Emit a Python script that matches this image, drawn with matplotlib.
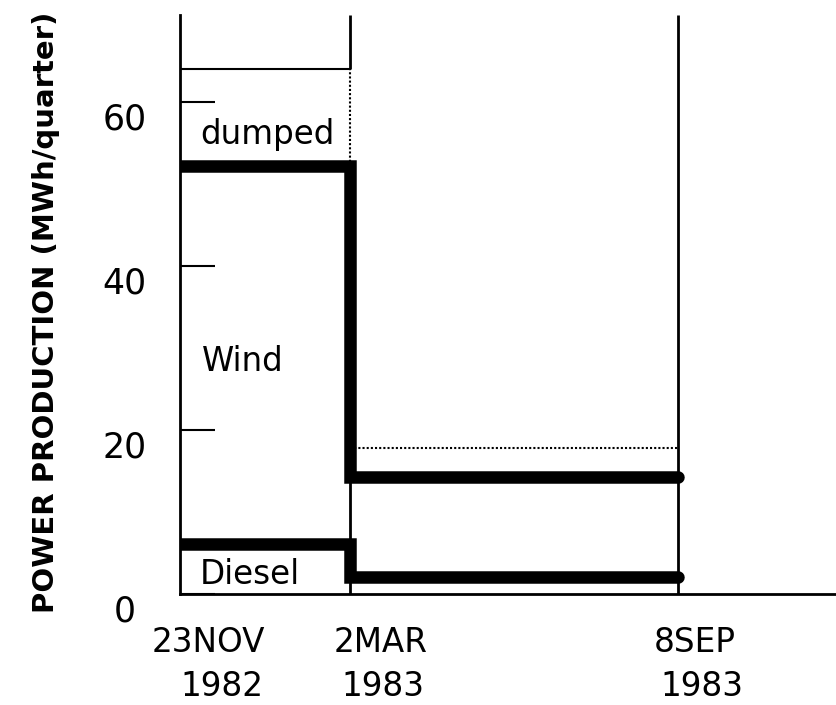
"""
Power production per quarter: diesel, wind and dumped energy
"""

import datetime as dt
import matplotlib
matplotlib.use("Agg")
import matplotlib.pyplot as plt
import matplotlib.dates as mdates
import matplotlib.transforms as mtransforms

# period boundaries
dates = [dt.date(1982, 11, 23), dt.date(1983, 3, 2), dt.date(1983, 9, 8)]
date_labels = [("23NOV", "1982"), ("2MAR", "1983"), ("8SEP", "1983")]

# levels per period (MWh/quarter), last value repeated for the step
wind_total = [52.2, 14.3, 14.3]
diesel = [6.1, 2.1, 2.1]
dumped_top = [64.0, 17.8, 17.8]

yticks = [0, 20, 40, 60]

plt.rcParams['font.family'] = ['DejaVu Sans']

fig = plt.figure(figsize=(8.36, 7.05), dpi=100)
ax = fig.add_axes([180/836, 111/705, 656/836, 579/705])

x = mdates.date2num(dates)
ax.set_xlim(x[0], x[0] + 381)
ax.set_ylim(0, 70.6)

# thin frame lines at the period boundaries
ax.vlines(x[1], 0, wind_total[1], color='black', lw=2)
ax.vlines(x[1], dumped_top[0], 70.6, color='black', lw=2)
ax.vlines(x[2], 0, 70.6, color='black', lw=2)

# dumped energy bounds
ax.hlines(dumped_top[0], x[0], x[1], color='black', lw=1.5)
ax.vlines(x[1], wind_total[0], dumped_top[0], color='black', lw=1.5, linestyles=(0, (1, 1)))
ax.hlines(dumped_top[1], x[1], x[2], color='black', lw=1.5, linestyles=(0, (1, 1)))

# thick step lines
ax.plot(x, wind_total, drawstyle='steps-post', color='black', lw=9,
        solid_capstyle='round', solid_joinstyle='miter')
ax.plot(x, diesel, drawstyle='steps-post', color='black', lw=9,
        solid_capstyle='round', solid_joinstyle='miter')

# labels inside the chart
ax.text(x[0] + 11.6, 56.0, "dumped", fontsize=23.5, va='center', ha='left')
ax.text(x[0] + 13.0, 28.3, "Wind", fontsize=23.5, va='center', ha='left')
ax.text(x[0] + 11.6, 2.4, "Diesel", fontsize=23.5, va='center', ha='left')

for s in ['top', 'right']:
    ax.spines[s].set_visible(False)
ax.spines['left'].set_linewidth(2)
ax.spines['bottom'].set_linewidth(2)

ax.set_yticks(yticks)
ax.set_yticklabels([str(v) for v in yticks])
ax.tick_params(axis='y', direction='in', length=25, width=1.5, pad=40, labelsize=25)
shift = mtransforms.ScaledTranslation(0, -0.14, fig.dpi_scale_trans)
for lab in ax.get_yticklabels():
    lab.set_ha('center')
    lab.set_transform(lab.get_transform() + shift)

ax.set_xticks([])

# date labels under the axis, two rows
row_offsets = [(0.28, 0.42), (0.30, 0.32), (0.17, 0.24)]
for xi, (top, bottom), (o1, o2) in zip(x, date_labels, row_offsets):
    t1 = ax.get_xaxis_transform() + mtransforms.ScaledTranslation(o1, -0.49, fig.dpi_scale_trans)
    t2 = ax.get_xaxis_transform() + mtransforms.ScaledTranslation(o2, -0.93, fig.dpi_scale_trans)
    ax.text(xi, 0, top, transform=t1, fontsize=23.5, ha='center', va='center')
    ax.text(xi, 0, bottom, transform=t2, fontsize=23.5, ha='center', va='center')

fig.text(46/836, 1 - 312/705, "POWER PRODUCTION (MWh/quarter)", rotation=90,
         fontsize=21, fontweight='bold', ha='center', va='center')

fig.savefig("out.png", dpi=100)
